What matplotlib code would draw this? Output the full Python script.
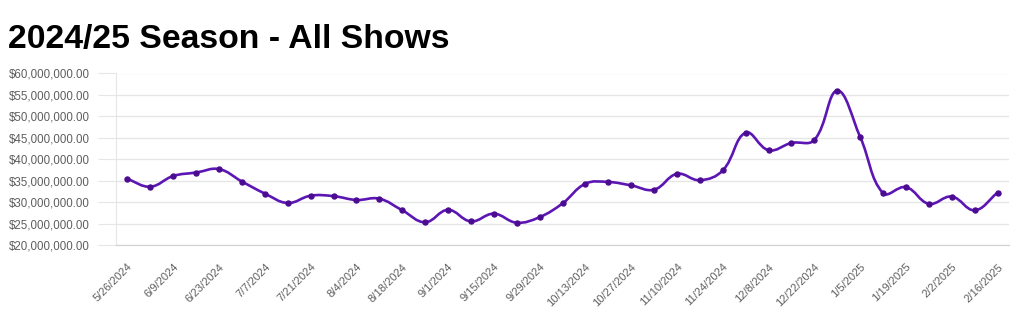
import matplotlib
matplotlib.use("Agg")
import matplotlib.pyplot as plt
from matplotlib.path import Path
from matplotlib.patches import PathPatch
import numpy as np

# weekly gross, millions of dollars
weeks = ["5/26/2024", "6/2/2024", "6/9/2024", "6/16/2024", "6/23/2024",
         "6/30/2024", "7/7/2024", "7/14/2024", "7/21/2024", "7/28/2024",
         "8/4/2024", "8/11/2024", "8/18/2024", "8/25/2024", "9/1/2024",
         "9/8/2024", "9/15/2024", "9/22/2024", "9/29/2024", "10/6/2024",
         "10/13/2024", "10/20/2024", "10/27/2024", "11/3/2024", "11/10/2024",
         "11/17/2024", "11/24/2024", "12/1/2024", "12/8/2024", "12/15/2024",
         "12/22/2024", "12/29/2024", "1/5/2025", "1/12/2025", "1/19/2025",
         "1/26/2025", "2/2/2025", "2/9/2025", "2/16/2025"]
gross = [35.4, 33.6, 36.1, 36.9, 37.7, 34.8, 32.0, 29.8, 31.5, 31.4,
         30.5, 30.8, 28.1, 25.3, 28.2, 25.5, 27.3, 25.2, 26.5, 29.7,
         34.3, 34.7, 33.9, 32.9, 36.6, 35.1, 37.4, 46.2, 42.1, 43.8,
         44.5, 56.0, 45.2, 32.1, 33.5, 29.6, 31.3, 28.1, 32.2]
y_ticks = [20, 25, 30, 35, 40, 45, 50, 55, 60]

LINE = "#5c16b4"
DOT = "#4b0c91"
GRID = "#e6e6e6"
TXT = "#5e5e5e"

fig = plt.figure(figsize=(10.24, 3.29), dpi=100)
ax = fig.add_axes([116 / 1024, 1 - 245 / 329, (1009 - 116) / 1024, (245 - 73.5) / 329])

x = np.arange(len(gross), dtype=float)
y = np.asarray(gross, dtype=float)

# chart.js style bezier smoothing (tension 0.4), distances in pixel units
sx, sy = 22.93, 4.29
n = len(x)
cp_prev = np.zeros((n, 2))
cp_next = np.zeros((n, 2))
for i in range(n):
    p0 = (x[max(i - 1, 0)], y[max(i - 1, 0)])
    p1 = (x[i], y[i])
    p2 = (x[min(i + 1, n - 1)], y[min(i + 1, n - 1)])
    d01 = np.hypot((p1[0] - p0[0]) * sx, (p1[1] - p0[1]) * sy)
    d12 = np.hypot((p2[0] - p1[0]) * sx, (p2[1] - p1[1]) * sy)
    tot = d01 + d12 if d01 + d12 else 1.0
    fa, fb = 0.4 * d01 / tot, 0.4 * d12 / tot
    dx, dy = p2[0] - p0[0], p2[1] - p0[1]
    cp_prev[i] = (p1[0] - fa * dx, p1[1] - fa * dy)
    cp_next[i] = (p1[0] + fb * dx, p1[1] + fb * dy)

verts = [(x[0], y[0])]
codes = [Path.MOVETO]
for i in range(n - 1):
    verts += [tuple(cp_next[i]), tuple(cp_prev[i + 1]), (x[i + 1], y[i + 1])]
    codes += [Path.CURVE4] * 3
ax.add_patch(PathPatch(Path(verts, codes), fill=False, edgecolor=LINE,
                       lw=1.9, capstyle="round", joinstyle="round", zorder=3))
ax.plot(x, y, "o", ms=3.6, color=DOT, zorder=4)

ax.set_xlim(-0.5, n - 0.5)
ax.set_ylim(20, 60)
ax.set_yticks(y_ticks)
ax.set_yticklabels([f"${v * 1e6:,.2f}" for v in y_ticks], fontsize=8.3,
                   color=TXT, family="Liberation Sans")
ax.grid(axis="y", color=GRID, lw=1)
ax.tick_params(axis="y", length=13, color=GRID, pad=6)

ax.set_xticks(x[::2])
ax.set_xticklabels(weeks[::2], rotation=45, ha="right", va="top",
                   rotation_mode="anchor", fontsize=8, color=TXT,
                   family="Liberation Sans")
ax.tick_params(axis="x", length=0, pad=12)

for s in ["top", "right"]:
    ax.spines[s].set_visible(False)
ax.spines["left"].set_color(GRID)
ax.spines["bottom"].set_color("#d0d0d0")
ax.set_axisbelow(True)

fig.text(8 / 1024, 1 - 48 / 329, "2024/25 Season - All Shows", fontsize=24.3,
         fontweight="bold", family="Liberation Sans", color="black",
         va="baseline")

fig.savefig("out.png", dpi=100)
